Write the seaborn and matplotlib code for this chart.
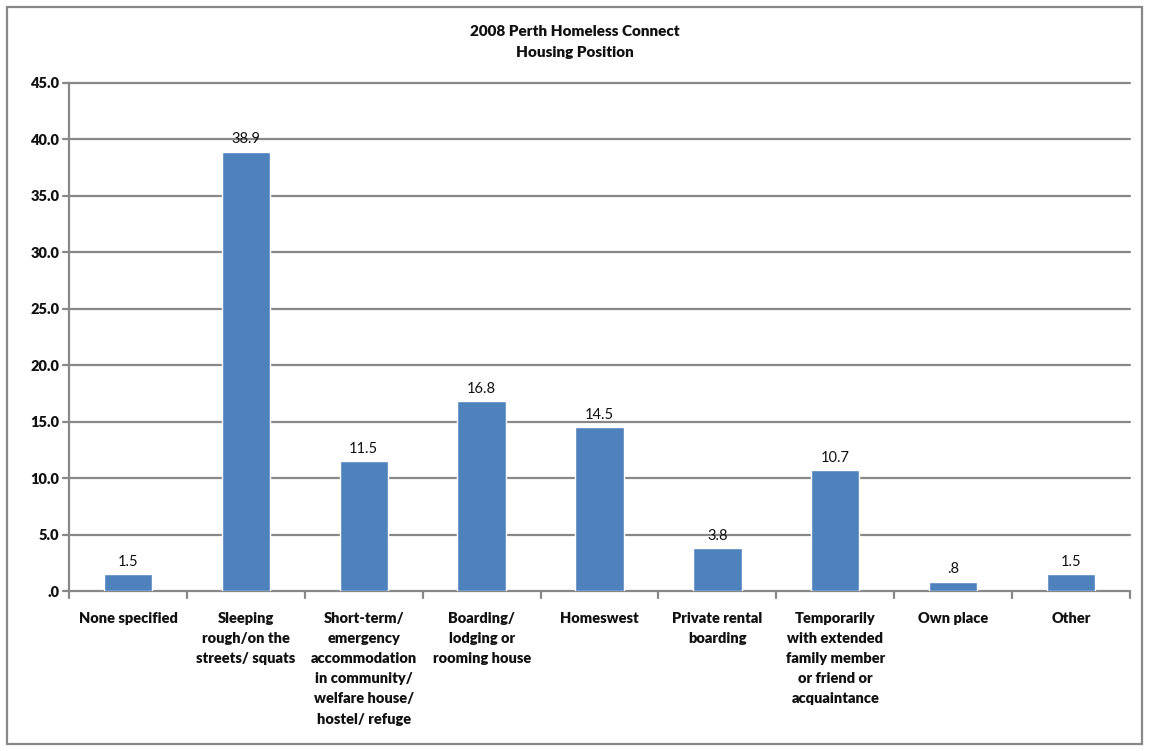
import matplotlib
matplotlib.use("Agg")
import matplotlib.pyplot as plt
import seaborn as sns
import pandas as pd
from matplotlib.patches import Rectangle

categories = [
    "None specified",
    "Sleeping\nrough/on the\nstreets/ squats",
    "Short-term/\nemergency\naccommodation\nin community/\nwelfare house/\nhostel/ refuge",
    "Boarding/\nlodging or\nrooming house",
    "Homeswest",
    "Private rental\nboarding",
    "Temporarily\nwith extended\nfamily member\nor friend or\nacquaintance",
    "Own place",
    "Other",
]
values = [1.5, 38.9, 11.5, 16.8, 14.5, 3.8, 10.7, 0.8, 1.5]
value_labels = ["1.5", "38.9", "11.5", "16.8", "14.5", "3.8", "10.7", ".8", "1.5"]
y_ticks = [0, 5, 10, 15, 20, 25, 30, 35, 40, 45]
y_tick_labels = [".0", "5.0", "10.0", "15.0", "20.0", "25.0", "30.0", "35.0", "40.0", "45.0"]
title = "2008 Perth Homeless Connect\nHousing Position"

sns.set_theme(style="white")
plt.rcParams["font.family"] = ["Lato", "DejaVu Sans"]

df = pd.DataFrame({"category": categories, "value": values})

fig = plt.figure(figsize=(11.49, 7.51), dpi=100)
ax = fig.add_axes([0.0601, 0.2130, 0.9234, 0.6765])

sns.barplot(data=df, x="category", y="value", color="#4F81BD", saturation=1,
            width=0.41, ax=ax, zorder=3)

ax.set_ylim(0, 45)
ax.set_xlim(-0.5, len(categories) - 0.5)
ax.set_yticks(y_ticks)
ax.set_yticklabels(y_tick_labels, fontsize=10.5, fontweight="heavy", color="#111111")
ax.set_xticks(range(len(categories)))
ax.set_xticklabels(categories, fontsize=10.5, fontweight="heavy", color="#111111",
                   linespacing=1.65, va="top")
ax.tick_params(axis="x", length=0, pad=15)
ax.tick_params(axis="y", length=0, pad=7)
ax.set_xlabel("")
ax.set_ylabel("")

# horizontal gridlines with short ticks left of the axis
grid_color = "#888888"
for y in y_ticks:
    ax.plot([-0.5 - 0.05, len(categories) - 0.5], [y, y], color=grid_color,
            lw=1.6, zorder=1, clip_on=False)
# category separator ticks below the axis
for b in range(len(categories) + 1):
    ax.plot([b - 0.5, b - 0.5], [0, -0.6], color=grid_color, lw=1.6,
            clip_on=False, zorder=1)

for s in ["top", "right"]:
    ax.spines[s].set_visible(False)
ax.spines["bottom"].set_visible(False)
ax.spines["left"].set_color(grid_color)
ax.spines["left"].set_linewidth(1.6)

for i, (v, lab) in enumerate(zip(values, value_labels)):
    ax.annotate(lab, (i, v), xytext=(0, 4), textcoords="offset points",
                ha="center", va="bottom", fontsize=10.5, color="#111111")

fig.text(0.5, 0.967, title, ha="center", va="top", fontsize=11,
         fontweight="heavy", color="#111111", linespacing=1.75)

fig.patches.append(Rectangle((0.006, 0.009), 0.988, 0.982, transform=fig.transFigure,
                             fill=False, edgecolor="#888888", lw=1.6))

fig.savefig("out.png", dpi=100)
